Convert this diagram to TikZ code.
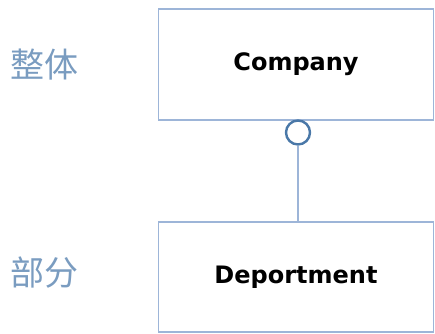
\documentclass[tikz,border=0pt]{standalone}
\usepackage{fontspec}
\newfontfamily\cjk{Noto Sans CJK SC}
\newfontfamily\boxfont{DejaVu Sans}
\definecolor{boxline}{HTML}{9DB5D8}
\definecolor{ringline}{HTML}{4A78A8}
\definecolor{tagtext}{HTML}{7A9CC0}
\tikzset{
  classbox/.style={draw=boxline, line width=1.6pt, fill=white, minimum width=275pt,
    inner sep=0pt, font=\boxfont\bfseries\fontsize{24}{28}\selectfont},
  tag/.style={text=tagtext, inner sep=0pt, font=\cjk\fontsize{34}{40}\selectfont}
}
\begin{document}
\begin{tikzpicture}[x=1pt,y=-1pt]
  \useasboundingbox (0,0) rectangle (435,333);
  \node[classbox, minimum height=111pt] (company) at (296,64.5) {Company};
  \node[classbox, minimum height=110pt] (dept) at (296,277) {Deportment};
  \node[tag] (whole) at (44,65) {整体};
  \node[tag] (part) at (44,273) {部分};
  % ring under the whole
  \node[circle, draw=ringline, line width=2.4pt, fill=white, minimum size=24pt,
    inner sep=0pt] (ring) at (298,132.5) {};
  \draw[boxline, line width=1.8pt] (ring) -- (ring |- dept.north);
\end{tikzpicture}
\end{document}
